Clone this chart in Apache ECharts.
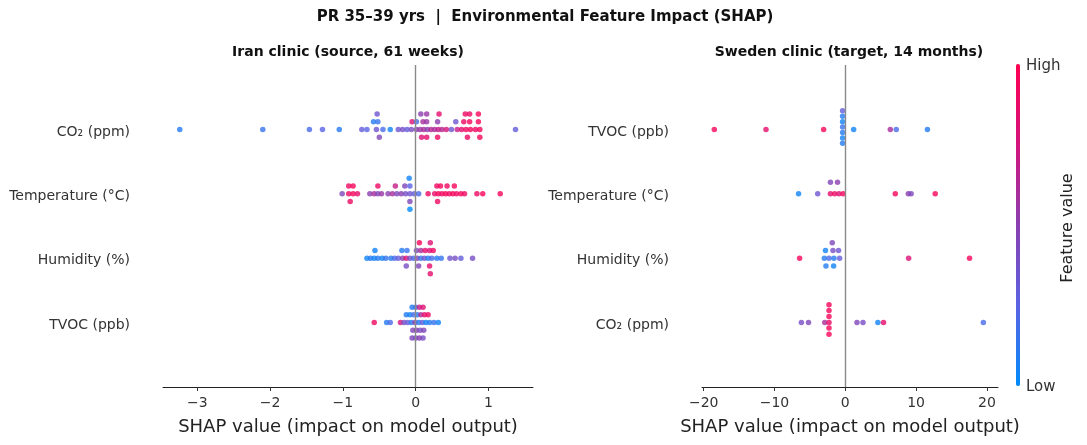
<!DOCTYPE html>
<html>
<head>
<meta charset="utf-8">
<script src="https://cdn.jsdelivr.net/npm/echarts@6/dist/echarts.min.js"></script>
<style>
html, body { margin: 0; padding: 0; background: #fff; }
#chart { width: 1087px; height: 445px; }
</style>
</head>
<body>
<div id="chart"></div>
<script>
// feature names, bottom row first
var iranFeatures = ['TVOC (ppb)', 'Humidity (%)', 'Temperature (°C)', 'CO₂ (ppm)'];
var swedenFeatures = ['CO₂ (ppm)', 'Humidity (%)', 'Temperature (°C)', 'TVOC (ppb)'];
var iranTicks = [-3, -2, -1, 0, 1];
var swedenTicks = [-20, -10, 0, 10, 20];

// each point: [shap value, stack level, feature value 0..1]
var iranTVOC = [
    [-0.57,0,0.9], [-0.40,0,0.1], [-0.35,0,0.2], [-0.21,0,0.75], [-0.16,0,0.4], [-0.11,0,0.3],
    [-0.06,0,0.1], [-0.01,0,0.5], [0.04,0,0.1], [0.09,0,0.3], [0.14,0,0.05], [0.19,0,0.1],
    [0.25,0,0.15], [0.31,0,0.05],
    [-0.13,1,0.1], [-0.08,1,0.05], [-0.03,1,0.2], [0.02,1,0.1], [0.07,1,0.6], [0.12,1,0.85], [0.17,1,0.9],
    [-0.05,2,0.1], [0.00,2,0.15], [0.05,2,0.7], [0.10,2,0.8],
    [-0.04,-1,0.45], [0.01,-1,0.5], [0.06,-1,0.4], [0.11,-1,0.45],
    [-0.05,-2,0.45], [0.00,-2,0.4], [0.05,-2,0.5], [0.10,-2,0.4]
];
var iranHum = [
    [-0.67,0,0.05], [-0.62,0,0.1], [-0.57,0,0.05], [-0.52,0,0.1], [-0.46,0,0.05], [-0.41,0,0.15],
    [-0.34,0,0.1], [-0.29,0,0.2], [-0.24,0,0.3], [-0.18,0,0.5], [-0.13,0,0.8], [-0.08,0,0.4],
    [-0.03,0,0.2], [0.02,0,0.5], [0.07,0,0.15], [0.12,0,0.35], [0.17,0,0.1], [0.22,0,0.2],
    [0.29,0,0.1], [0.35,0,0.15], [0.47,0,0.35], [0.54,0,0.4], [0.62,0,0.3], [0.78,0,0.4],
    [-0.56,1,0.05], [-0.19,1,0.1], [-0.12,1,0.15], [0.01,1,0.45], [0.07,1,0.6], [0.13,1,0.85],
    [0.19,1,0.8], [0.24,1,0.9],
    [0.05,2,0.95], [0.20,2,0.8],
    [-0.13,-1,0.4], [0.04,-1,0.45], [0.19,-1,0.85],
    [0.20,-2,0.85]
];
var iranTemp = [
    [-1.01,0,0.45], [-0.92,0,0.9], [-0.86,0,0.95], [-0.80,0,0.85], [-0.63,0,0.5], [-0.57,0,0.6],
    [-0.52,0,0.45], [-0.47,0,0.55], [-0.38,0,0.5], [-0.32,0,0.6], [-0.26,0,0.45], [-0.20,0,0.5],
    [-0.14,0,0.4], [-0.08,0,0.35], [-0.02,0,0.3], [0.04,0,0.2], [0.17,0,0.9], [0.26,0,0.85],
    [0.31,0,0.95], [0.36,0,0.9], [0.41,0,0.95], [0.46,0,0.9], [0.51,0,0.95], [0.56,0,0.9],
    [0.62,0,0.95], [0.67,0,0.9], [0.84,0,0.9], [0.92,0,0.95], [1.16,0,0.95],
    [-0.92,1,0.9], [-0.86,1,0.95], [-0.52,1,0.9], [-0.28,1,0.7], [-0.15,1,0.45], [-0.08,1,0.25],
    [0.29,1,0.9], [0.34,1,0.95], [0.43,1,0.9], [0.53,1,0.95],
    [-0.09,2,0.05],
    [-0.90,-1,0.9], [-0.08,-1,0.45], [0.30,-1,0.9],
    [-0.08,-2,0.0]
];
var iranCO2 = [
    [-3.24,0,0.1], [-2.10,0,0.15], [-1.46,0,0.2], [-1.28,0,0.25], [-1.05,0,0.1], [-0.74,0,0.3],
    [-0.67,0,0.25], [-0.54,0,0.35], [-0.45,0,0.2], [-0.35,0,0.05], [-0.24,0,0.35], [-0.18,0,0.4],
    [-0.12,0,0.3], [-0.06,0,0.4], [0.01,0,0.5], [0.06,0,0.55], [0.11,0,0.6], [0.16,0,0.5],
    [0.21,0,0.65], [0.26,0,0.6], [0.31,0,0.7], [0.36,0,0.65], [0.42,0,0.75], [0.49,0,0.35],
    [0.57,0,0.7], [0.63,0,0.85], [0.69,0,0.9], [0.75,0,0.95], [0.82,0,0.9], [0.88,0,0.95],
    [1.37,0,0.3],
    [-0.58,1,0.1], [-0.52,1,0.15], [-0.05,1,0.8], [0.01,1,0.2], [0.10,1,0.6], [0.15,1,0.55],
    [0.30,1,0.5], [0.55,1,0.35], [0.66,1,0.9], [0.74,1,0.95], [0.86,1,0.95],
    [-0.53,2,0.35], [0.07,2,0.5], [0.15,2,0.55], [0.32,2,0.85], [0.68,2,0.9], [0.74,2,0.9], [0.86,2,0.95],
    [-0.50,-1,0.45], [0.08,-1,0.8], [0.15,-1,0.85], [0.30,-1,0.9], [0.71,-1,0.9], [0.88,-1,0.95]
];

var swCO2 = [
    [-6.2,0,0.4], [-5.2,0,0.45], [-2.9,0,0.6], [-2.3,0,0.9],
    [-2.3,2.3,0.95], [-2.3,1.55,0.95], [-2.3,0.8,0.95], [-2.3,-0.7,0.95], [-2.3,-1.5,0.95],
    [1.65,0,0.45], [2.5,0,0.4], [4.6,0,0.05], [5.4,0,0.85], [19.5,0,0.2]
];
var swHum = [
    [-6.45,0,0.95], [-2.96,0,0.1], [-2.3,0,0.2], [-1.6,0,0.1], [-0.8,0,0.3],
    [-2.8,1,0.05], [-1.74,1,0.4], [-0.95,1,0.35], [-1.84,2,0.45],
    [-2.73,-1,0.1], [-1.65,-1,0.05], [8.95,0,0.8], [17.55,0,0.95]
];
var swTemp = [
    [-6.6,0,0.05], [-3.9,0,0.35], [-2.1,0,0.85], [-1.5,0,0.9], [-0.9,0,0.8], [-0.3,0,0.95],
    [-2.1,1.5,0.45], [-1.1,1.5,0.5],
    [7.06,0,0.95], [8.9,0,0.5], [9.3,0,0.45], [12.7,0,0.95]
];
var swTVOC = [
    [-18.5,0,0.95], [-11.2,0,0.85], [-3.06,0,0.95],
    [-0.38,2.4,0.3], [-0.38,1.7,0.1], [-0.38,1.0,0.05], [-0.38,0.3,0.15],
    [-0.38,-0.4,0.1], [-0.38,-1.1,0.05], [-0.38,-1.8,0.1],
    [1.18,0,0.05], [6.36,0,0.6], [7.2,0,0.2], [11.6,0,0.1]
];

// stack level -> offset in row units
var LEVEL = 0.12;

function toPoints(rows) {
    var out = [];
    rows.forEach(function (row, r) {
        row.forEach(function (p) {
            out.push([p[0], r + p[1] * LEVEL, p[2]]);
        });
    });
    return out;
}

function minusSign(v) {
    return String(v).replace('-', '\u2212');
}

var FONT = 'DejaVu Sans';

function makeXAxis(grid, min, max, ticks) {
    return {
        type: 'value',
        gridIndex: grid,
        min: min,
        max: max,
        name: 'SHAP value (impact on model output)',
        nameLocation: 'middle',
        nameGap: 31,
        nameTextStyle: { fontFamily: FONT, fontSize: 18, color: '#222' },
        axisLine: { show: true, onZero: false, lineStyle: { color: '#222', width: 1 } },
        axisTick: { show: true, length: 4, customValues: ticks, lineStyle: { color: '#333' } },
        axisLabel: {
            customValues: ticks,
            margin: 9,
            fontFamily: FONT,
            fontSize: 14,
            color: '#333',
            formatter: minusSign
        },
        splitLine: { show: false }
    };
}

function makeYAxis(grid, names) {
    return {
        type: 'value',
        gridIndex: grid,
        min: -1,
        max: 4,
        interval: 1,
        axisLine: { show: false },
        axisTick: { show: false },
        splitLine: { show: false },
        axisLabel: {
            margin: 33,
            fontFamily: FONT,
            fontSize: 14,
            color: '#333',
            formatter: function (v) { return names[v] ? '{f|' + names[v] + '}' : ''; },
            rich: {
                f: { fontFamily: FONT, fontSize: 14, color: '#333', padding: [5, 0, 0, 0] }
            }
        }
    };
}

function makeSeries(grid, data) {
    return {
        type: 'scatter',
        xAxisIndex: grid,
        yAxisIndex: grid,
        symbolSize: 5.5,
        data: data,
        markLine: {
            silent: true,
            symbol: 'none',
            label: { show: false },
            lineStyle: { color: '#8a8a8a', width: 1.4, type: 'solid' },
            data: [{ xAxis: 0 }]
        }
    };
}

var myChart = echarts.init(document.getElementById('chart'));

var option = {
    backgroundColor: '#fff',
    animation: false,
    grid: [
        { left: 163, top: 65, width: 370, height: 322 },
        { left: 702, top: 65, width: 296, height: 322 }
    ],
    xAxis: [
        makeXAxis(0, -3.47, 1.61, iranTicks),
        makeXAxis(1, -20.24, 21.57, swedenTicks)
    ],
    yAxis: [
        makeYAxis(0, iranFeatures),
        makeYAxis(1, swedenFeatures)
    ],
    visualMap: {
        type: 'continuous',
        min: 0,
        max: 1,
        dimension: 2,
        seriesIndex: [0, 1],
        calculable: false,
        hoverLink: false,
        left: 1016,
        top: 64,
        padding: 0,
        itemWidth: 4,
        itemHeight: 322,
        text: null,
        inRange: { color: ['#008bfb', '#5a63e3', '#8a3fb0', '#d4137c', '#ff0052'] }
    },
    series: [
        makeSeries(0, toPoints([iranTVOC, iranHum, iranTemp, iranCO2])),
        makeSeries(1, toPoints([swCO2, swHum, swTemp, swTVOC]))
    ],
    graphic: [
        {
            type: 'text', x: 545, y: 17,
            style: { text: 'PR 35–39 yrs  |  Environmental Feature Impact (SHAP)', font: 'bold 15px ' + FONT,
                fill: '#111', align: 'center', verticalAlign: 'middle' }
        },
        {
            type: 'text', x: 348, y: 52,
            style: { text: 'Iran clinic (source, 61 weeks)', font: 'bold 14px ' + FONT,
                fill: '#111', align: 'center', verticalAlign: 'middle' }
        },
        {
            type: 'text', x: 849, y: 52,
            style: { text: 'Sweden clinic (target, 14 months)', font: 'bold 14px ' + FONT,
                fill: '#111', align: 'center', verticalAlign: 'middle' }
        },
        {
            type: 'text', x: 1026, y: 66,
            style: { text: 'High', font: '15px ' + FONT, fill: '#333', align: 'left', verticalAlign: 'middle' }
        },
        {
            type: 'text', x: 1026, y: 387,
            style: { text: 'Low', font: '15px ' + FONT, fill: '#333', align: 'left', verticalAlign: 'middle' }
        },
        {
            type: 'text', x: 1068, y: 228, rotation: Math.PI / 2,
            style: { text: 'Feature value', font: '16px ' + FONT, fill: '#222', align: 'center', verticalAlign: 'middle' }
        }
    ]
};

myChart.setOption(option);
</script>
</body>
</html>
